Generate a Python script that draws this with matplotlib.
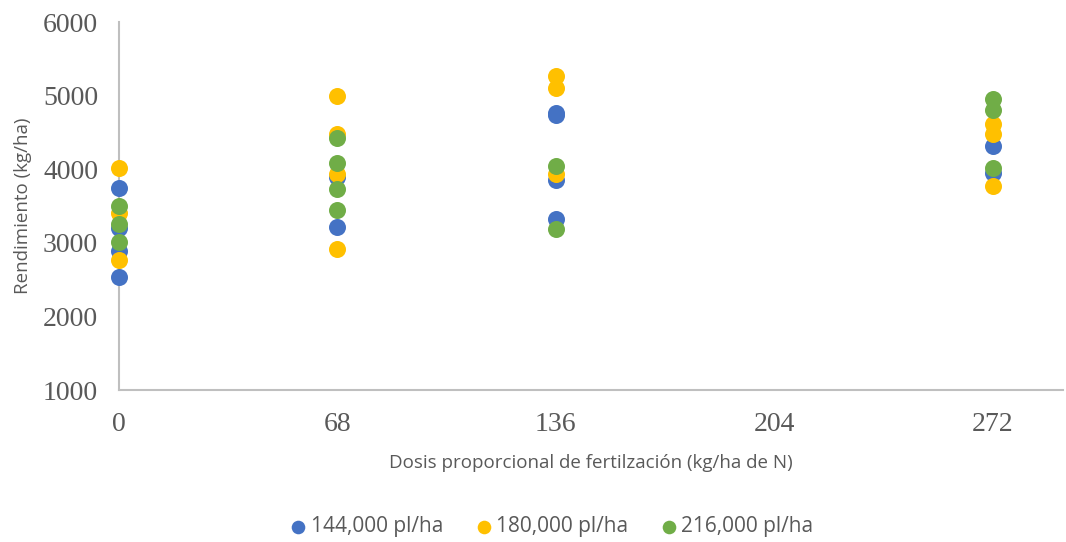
import matplotlib.pyplot as plt

# dose levels (kg/ha de N)
x_ticks = [0, 68, 136, 204, 272]

# 144,000 pl/ha
blue_x = [0, 0, 0, 0, 68, 68, 136, 136, 136, 136, 272, 272]
blue_y = [3740, 3200, 2890, 2530, 3900, 3210, 4770, 4730, 3850, 3320, 4310, 3950]

# 180,000 pl/ha
yellow_x = [0, 0, 0, 68, 68, 68, 68, 136, 136, 136, 272, 272, 272]
yellow_y = [4010, 3400, 2770, 5000, 4480, 3940, 2910, 5260, 5100, 3940, 4610, 4480, 3770]

# 216,000 pl/ha
green_x = [0, 0, 0, 68, 68, 68, 68, 136, 136, 272, 272, 272]
green_y = [3500, 3260, 3010, 4430, 4080, 3730, 3450, 4050, 3190, 4960, 4800, 4010]

plt.rcParams['font.family'] = ['Open Sans', 'DejaVu Sans']
text_col = '#595959'

fig = plt.figure(figsize=(10.66, 5.42), dpi=100)
ax = fig.add_axes([0.1116, 0.2804, 0.886, 0.6790])

ms = 150
ax.scatter(blue_x, blue_y, s=ms, color='#4472C4', label='144,000 pl/ha', zorder=3, linewidths=0, clip_on=False)
ax.scatter(yellow_x, yellow_y, s=ms, color='#FFC000', label='180,000 pl/ha', zorder=4, linewidths=0, clip_on=False)
ax.scatter(green_x, green_y, s=ms, color='#70AD47', label='216,000 pl/ha', zorder=5, linewidths=0, clip_on=False)

ax.set_xlim(0, 294)
ax.set_ylim(1000, 6000)
ax.set_xticks(x_ticks)
ax.set_yticks([1000, 2000, 3000, 4000, 5000, 6000])

for s in ['top', 'right']:
    ax.spines[s].set_visible(False)
for s in ['left', 'bottom']:
    ax.spines[s].set_color('#BFBFBF')
    ax.spines[s].set_linewidth(1.5)

ax.tick_params(length=0, colors=text_col, labelsize=20)
ax.tick_params(axis='x', pad=16)
ax.tick_params(axis='y', pad=15)
for lab in ax.get_xticklabels() + ax.get_yticklabels():
    lab.set_fontfamily('Liberation Serif')

ax.set_xlabel('Dosis proporcional de fertilzación (kg/ha de N)', fontsize=13.5, color=text_col, labelpad=12)
ax.set_ylabel('Rendimiento (kg/ha)', fontsize=13.5, color=text_col, labelpad=8)

leg = fig.legend(loc='lower center', bbox_to_anchor=(0.517, -0.026), ncol=3, frameon=False,
                 fontsize=15, handletextpad=0.15, handlelength=0.9, columnspacing=1.5, markerscale=0.8)
for t in leg.get_texts():
    t.set_color(text_col)

fig.savefig('out.png', dpi=100)
